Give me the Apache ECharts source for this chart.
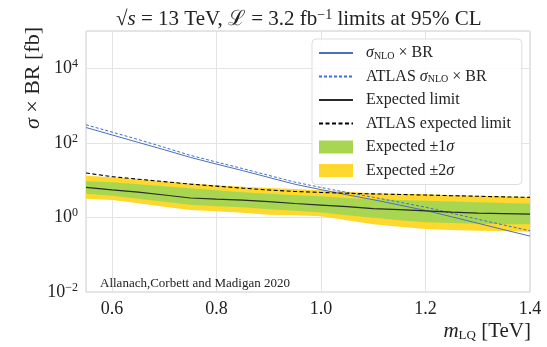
<!DOCTYPE html>
<html>
<head>
<meta charset="utf-8">
<script src="https://cdn.jsdelivr.net/npm/echarts@6/dist/echarts.min.js"></script>
<style>html,body{margin:0;padding:0;background:#fff}#c{width:547px;height:347px}</style>
</head>
<body>
<div id="c"></div>
<script>
// ---- data ----
const mass = [0.55,0.60,0.65,0.70,0.75,0.80,0.85,0.90,0.95,1.00,1.05,1.10,1.15,1.20,1.25,1.30,1.35,1.40];
const sigmaNLO = [258,163,103,65.3,40.7,26.9,18.0,11.8,7.76,5.55,4.03,2.99,2.15,1.54,1.04,0.70,0.467,0.316];
const atlasSigmaNLO = [305,194,123,75.7,46.1,30.5,20.4,13.4,8.84,6.36,4.67,3.47,2.56,1.88,1.30,0.895,0.625,0.439];
const expectedLimit = [6.4,5.49,4.76,4.0,3.32,3.09,2.90,2.64,2.36,2.15,1.94,1.73,1.61,1.49,1.38,1.30,1.26,1.23];
const atlasExpectedLimit = [15.6,12.4,10.6,9.12,7.80,6.90,6.10,5.45,4.97,4.67,4.44,4.28,4.13,3.98,3.83,3.69,3.56,3.45];
const band1Hi = [9.40,8.73,7.80,6.90,6.10,5.39,4.76,4.34,3.95,3.67,3.32,3.08,2.94,2.81,2.68,2.56,2.44,2.33];
const band1Lo = [4.34,3.83,3.18,2.64,2.19,2.00,1.88,1.66,1.51,1.36,1.15,0.98,0.84,0.74,0.71,0.68,0.66,0.66];
const band2Hi = [13.2,11.9,10.5,9.28,8.15,7.34,6.69,6.17,5.80,5.39,4.91,4.47,4.34,4.20,4.00,3.83,3.67,3.53];
const band2Lo = [3.18,2.94,2.41,1.94,1.58,1.47,1.34,1.18,1.15,1.08,0.84,0.66,0.56,0.49,0.46,0.44,0.43,0.41];
const xTicks = [0.6,0.8,1.0,1.2,1.4];
const legendLabels = {
  s1: '{it|σ}{sub|NLO} × BR',
  s2: 'ATLAS {it|σ}{sub|NLO} × BR',
  s3: 'Expected limit',
  s4: 'ATLAS expected limit',
  s5: 'Expected ±1{it|σ}',
  s6: 'Expected ±2{it|σ}'
};
const titleText = '√{it|s} = 13 TeV, ℒ = 3.2 fb{sup|−1} limits at 95% CL';
const yName = '{it|σ} × BR [fb]';
const xName = '{it|m}{sub|LQ} [TeV]';
const credit = 'Allanach,Corbett and Madigan 2020';

const FONT = 'Liberation Serif';
const GREEN = '#a9d650';
const YELLOW = '#fed82c';

function pairs(ys){ return mass.map((m,i)=>[m, ys[i]]); }

function band(name, lo, hi, color, z){
  return {
    type:'custom', name:name, z:z, clip:true,
    itemStyle:{color:color},
    data:[[mass[0], hi[0]]],
    renderItem:function(params, api){
      const pts = [];
      for (let i=0;i<mass.length;i++) pts.push(api.coord([mass[i], hi[i]]));
      for (let i=mass.length-1;i>=0;i--) pts.push(api.coord([mass[i], lo[i]]));
      return {type:'polygon', shape:{points:pts}, style:{fill:color, stroke:null}};
    }
  };
}

const chart = echarts.init(document.getElementById('c'), null, {renderer:'canvas'});
const subRich = {
  it:{fontStyle:'italic', fontFamily:FONT, fontSize:16, color:'#222'},
  sub:{fontFamily:FONT, fontSize:10, color:'#222', verticalAlign:'bottom', padding:[6,0,0,0]}
};
const hideSym = {opacity:0};
chart.setOption({
  animation:false,
  backgroundColor:'#fff',
  title:{
    text:titleText, left:111, top:3,
    textStyle:{fontFamily:FONT, fontSize:21, fontWeight:'normal', color:'#222',
      rich:{it:{fontStyle:'italic', fontFamily:FONT, fontSize:21, color:'#222'},
            sup:{fontFamily:FONT, fontSize:14, color:'#222', verticalAlign:'top', padding:[0,0,8,0]}}}
  },
  grid:{left:86, right:17, top:31, bottom:55, show:true, borderColor:'#cccccc', borderWidth:1, backgroundColor:'#fff'},
  legend:{
    orient:'vertical', left:312, top:39,
    padding:[6,11,6,6],
    itemWidth:34, itemHeight:13, itemGap:7.5,
    backgroundColor:'rgba(255,255,255,0.85)', borderColor:'#dddddd', borderWidth:1, borderRadius:4,
    data:[{name:'s1', itemStyle:hideSym},{name:'s2', itemStyle:hideSym},{name:'s3', itemStyle:hideSym},{name:'s4', itemStyle:hideSym},{name:'s5',icon:'rect'},{name:'s6',icon:'rect'}],
    formatter:function(n){ return legendLabels[n]; },
    textStyle:{fontFamily:FONT, fontSize:16, color:'#222', padding:[0,0,0,8], rich:subRich}
  },
  xAxis:{
    type:'value', min:0.55, max:1.4,
    axisLine:{show:false},
    axisTick:{show:false, customValues:xTicks},
    axisLabel:{customValues:xTicks, formatter:function(v){return v.toFixed(1);}, fontFamily:FONT, fontSize:18, color:'#222', margin:8},
    splitLine:{show:true, lineStyle:{color:'#e3e3e3', width:1}}
  },
  yAxis:{
    type:'log', logBase:10, min:0.01, max:1e5, interval:2,
    axisLine:{show:false}, axisTick:{show:false},
    axisLabel:{
      fontFamily:FONT, fontSize:18, color:'#222', margin:8,
      formatter:function(v){
        const e = Math.round(Math.log10(v));
        if (e % 2 !== 0 || e > 4) return '';
        return '10{sup|' + (e<0 ? '−' : '') + Math.abs(e) + '}';
      },
      rich:{sup:{fontFamily:FONT, fontSize:12, color:'#222', verticalAlign:'top', padding:[0,0,9,0]}}
    },
    splitLine:{show:true, lineStyle:{color:'#e3e3e3', width:1}}
  },
  series:[
    band('s6', band2Lo, band2Hi, YELLOW, 1),
    band('s5', band1Lo, band1Hi, GREEN, 2),
    {type:'line', name:'s1', data:pairs(sigmaNLO), symbol:'none', z:5, lineStyle:{color:'#4a6fbf', width:1}, itemStyle:{color:'#4a6fbf'}},
    {type:'line', name:'s2', data:pairs(atlasSigmaNLO), symbol:'none', z:5, lineStyle:{color:'#3f6fd0', width:1, type:[3,2]}, itemStyle:{color:'#3f6fd0'}},
    {type:'line', name:'s3', data:pairs(expectedLimit), symbol:'none', z:6, lineStyle:{color:'#2a2a2a', width:1.2}, itemStyle:{color:'#2a2a2a'}},
    {type:'line', name:'s4', data:pairs(atlasExpectedLimit), symbol:'none', z:6, lineStyle:{color:'#000', width:1.1, type:[4,2.5]}, itemStyle:{color:'#000'}}
  ],
  graphic:[
    {type:'text', x:33, y:27, rotation:Math.PI/2, style:{text:yName, fontFamily:FONT, fontSize:22, fill:'#222', align:'right', verticalAlign:'middle',
      rich:{it:{fontStyle:'italic', fontFamily:FONT, fontSize:22, fill:'#222'}}}},
    {type:'text', x:531, y:331, style:{text:xName, fontFamily:FONT, fontSize:21, fill:'#222', align:'right', verticalAlign:'middle',
      rich:{it:{fontStyle:'italic', fontFamily:FONT, fontSize:21, fill:'#222'}, sub:{fontFamily:FONT, fontSize:13, fill:'#222', verticalAlign:'bottom', padding:[10,0,0,0]}}}},
    {type:'text', x:100, y:284, z:10, style:{text:credit, fontFamily:FONT, fontSize:13, fill:'#222', align:'left', verticalAlign:'middle'}}
  ]
});
</script>
</body>
</html>
